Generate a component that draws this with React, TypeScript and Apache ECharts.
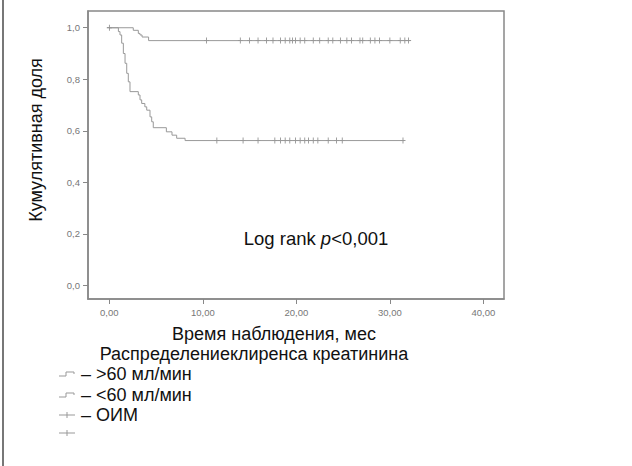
import React, { useEffect, useRef } from "react";
import * as echarts from "echarts";

const upperTimes = [0, 2.56, 3.1, 3.28, 3.5, 4.2, 32.2];
const upperSurv = [1.0, 0.99, 0.978, 0.972, 0.964, 0.95, 0.95];
const lowerTimes = [0, 0.97, 1.14, 1.32, 1.5, 1.68, 1.86, 2.03, 2.21, 3.1, 3.28, 3.46, 3.8, 4.0, 4.35, 4.53, 4.7, 6.1, 6.7, 7.2, 8.1, 31.5];
const lowerSurv = [1.0, 0.985, 0.972, 0.94, 0.9, 0.862, 0.823, 0.79, 0.752, 0.739, 0.72, 0.706, 0.693, 0.68, 0.654, 0.635, 0.612, 0.596, 0.583, 0.571, 0.562, 0.562];
const upperCensor = [10.4, 14.0, 15.0, 15.9, 16.8, 17.5, 18.3, 18.8, 19.3, 19.6, 19.9, 20.4, 20.9, 21.8, 22.5, 23.4, 23.9, 24.7, 25.4, 25.9, 26.8, 27.1, 27.9, 28.4, 28.9, 30.0, 31.1, 31.6, 32.0];
const lowerCensor = [11.5, 14.3, 15.9, 17.7, 18.3, 18.8, 19.3, 19.9, 20.4, 20.9, 21.3, 21.8, 22.3, 23.4, 24.3, 24.9, 31.4];
const startCensor = [0];
const xTicks = [0, 10, 20, 30, 40];
const yTicks = [0, 0.2, 0.4, 0.6, 0.8, 1.0];
const legendLabels = ["– >60 мл/мин", "– <60 мл/мин", "– ОИМ", ""];

const FONT = "'Liberation Sans', Arial, sans-serif";
const plus = "path://M-0.14,-1 L0.14,-1 L0.14,-0.14 L1,-0.14 L1,0.14 L0.14,0.14 L0.14,1 L-0.14,1 L-0.14,0.14 L-1,0.14 L-1,-0.14 L-0.14,-0.14 Z";

export default function App() {
  const ref = useRef<HTMLDivElement>(null);
  useEffect(() => {
    const chart = echarts.init(ref.current!, null, { renderer: "svg" });
    const upperLevel = upperSurv[upperSurv.length - 1];
    const lowerLevel = lowerSurv[lowerSurv.length - 1];
    const legendY = [374, 395, 415, 433];
    const legendGraphics: any[] = [];
    legendY.forEach((y, i) => {
      if (i < 2) {
        legendGraphics.push({
          type: "polyline",
          shape: { points: [[59, y + 2], [66, y + 2], [66, y - 2], [74, y - 2], [74, y]] },
          style: { stroke: "#999", lineWidth: 1, fill: null },
        });
      } else {
        legendGraphics.push({
          type: "line",
          shape: { x1: 59, y1: y, x2: 75, y2: y },
          style: { stroke: "#999", lineWidth: 1 },
        });
        legendGraphics.push({
          type: "line",
          shape: { x1: 67, y1: y - 3, x2: 67, y2: y + 3 },
          style: { stroke: "#999", lineWidth: 1 },
        });
      }
      if (legendLabels[i]) {
        legendGraphics.push({
          type: "text",
          x: 81,
          y,
          style: { text: legendLabels[i], font: `18px ${FONT}`, fill: "#111", verticalAlign: "middle" },
        });
      }
    });

    chart.setOption({
      animation: false,
      backgroundColor: "#fff",
      grid: { left: 88, top: 11, width: 416, height: 288, show: true, borderColor: "#888", borderWidth: 1.5 },
      xAxis: {
        type: "value",
        min: -2.28,
        max: 42.2,
        axisLine: { onZero: false, lineStyle: { color: "#888", width: 1.5 } },
        axisTick: { customValues: xTicks, length: 5, lineStyle: { color: "#888" } },
        axisLabel: {
          customValues: xTicks,
          formatter: (v: number) => v.toFixed(2).replace(".", ","),
          color: "#777",
          fontSize: 9.5,
          fontFamily: FONT,
          margin: 8,
        },
        splitLine: { show: false },
      },
      yAxis: {
        type: "value",
        min: -0.053,
        max: 1.065,
        axisLine: { show: true, onZero: false, lineStyle: { color: "#888", width: 1.5 } },
        axisTick: { show: true, customValues: yTicks, length: 5, lineStyle: { color: "#888" } },
        axisLabel: {
          customValues: yTicks,
          formatter: (v: number) => v.toFixed(1).replace(".", ","),
          color: "#777",
          fontSize: 9.5,
          fontFamily: FONT,
          margin: 8,
        },
        splitLine: { show: false },
      },
      series: [
        {
          type: "line",
          step: "end",
          data: upperTimes.map((t, i) => [t, upperSurv[i]]),
          showSymbol: false,
          lineStyle: { color: "#999", width: 1 },
        },
        {
          type: "line",
          step: "end",
          data: lowerTimes.map((t, i) => [t, lowerSurv[i]]),
          showSymbol: false,
          lineStyle: { color: "#999", width: 1 },
        },
        {
          type: "scatter",
          data: upperCensor.map((t) => [t, upperLevel]),
          symbol: plus,
          symbolSize: [5, 6],
          itemStyle: { color: "#555" },
        },
        {
          type: "scatter",
          data: lowerCensor.map((t) => [t, lowerLevel]),
          symbol: plus,
          symbolSize: [5, 6],
          itemStyle: { color: "#555" },
        },
        {
          type: "scatter",
          data: startCensor.map((t) => [t, 1.0]),
          symbol: plus,
          symbolSize: [5, 6],
          itemStyle: { color: "#555" },
        },
      ],
      graphic: [
        { type: "line", shape: { x1: 3, y1: 0, x2: 3, y2: 466 }, style: { stroke: "#777", lineWidth: 2 } },
        {
          type: "text",
          x: 36,
          y: 140,
          rotation: Math.PI / 2,
          style: { text: "Кумулятивная доля", font: `18px ${FONT}`, fill: "#111", align: "center", verticalAlign: "middle" },
        },
        {
          type: "text",
          x: 316,
          y: 238,
          style: {
            text: "{a|Log rank }{b|p}{a|<0,001}",
            align: "center",
            verticalAlign: "middle",
            rich: {
              a: { fontSize: 18.5, fontFamily: FONT, fill: "#111" },
              b: { fontSize: 18.5, fontFamily: FONT, fontStyle: "italic", fill: "#111" },
            },
          },
        },
        {
          type: "text",
          x: 274,
          y: 334,
          style: { text: "Время наблюдения, мес", font: `18px ${FONT}`, fill: "#111", align: "center", verticalAlign: "middle" },
        },
        {
          type: "text",
          x: 254,
          y: 354,
          style: { text: "Распределениеклиренса креатинина", font: `18px ${FONT}`, fill: "#111", align: "center", verticalAlign: "middle" },
        },
        ...legendGraphics,
      ],
    });
    return () => chart.dispose();
  }, []);
  return <div ref={ref} style={{ position: "fixed", left: 0, top: 0, width: 632, height: 466 }} />;
}
